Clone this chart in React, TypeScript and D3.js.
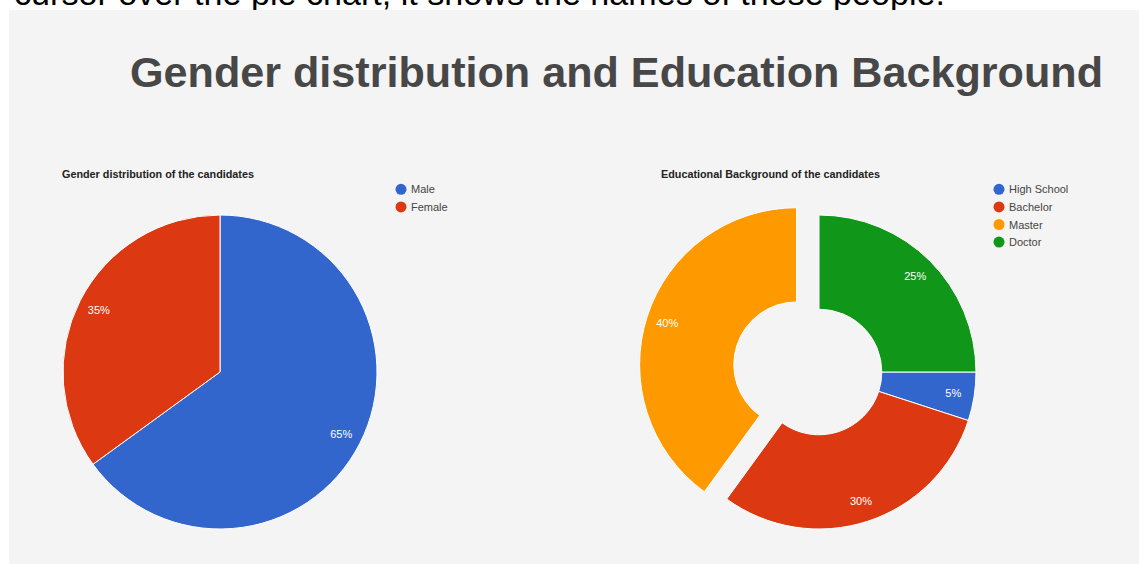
import React from "react";
import * as d3 from "d3";

const pageCaption = "cursor over the pie chart, it shows the names of these people.";
const mainTitle = "Gender distribution and Education Background";

const genderTitle = "Gender distribution of the candidates";
const genderLabels = ["Male", "Female"];
const genderValues = [65, 35];
const genderColors = ["#3366cc", "#dc3912"];

const eduTitle = "Educational Background of the candidates";
const eduLabels = ["High School", "Bachelor", "Master", "Doctor"];
const eduValues = [5, 30, 40, 25];
const eduColors = ["#3366cc", "#dc3912", "#ff9900", "#109618"];
const eduExploded = ["Master"];

const W = 1139;
const H = 564;
const R = 157;
const LABEL_R = 136;

type PieProps = {
  cx: number;
  cy: number;
  labels: string[];
  values: number[];
  colors: string[];
  startDeg: number;
  hole: number;
  exploded: string[];
};

function Pie({ cx, cy, labels, values, colors, startDeg, hole, exploded }: PieProps) {
  const start = (startDeg * Math.PI) / 180;
  const pie = d3
    .pie<number>()
    .sort(null)
    .startAngle(start)
    .endAngle(start + Math.PI * 2)
    .value((d) => d);
  const arcs = pie(values);
  const arc = d3.arc<d3.PieArcDatum<number>>().innerRadius(R * hole).outerRadius(R);
  const total = d3.sum(values);
  return (
    <g transform={`translate(${cx},${cy})`}>
      {arcs.map((a, i) => {
        const mid = (a.startAngle + a.endAngle) / 2;
        const off = exploded.includes(labels[i]) ? 0.15 * R : 0;
        const ox = Math.sin(mid) * off;
        const oy = -Math.cos(mid) * off;
        const lx = ox + Math.sin(mid) * LABEL_R;
        const ly = oy - Math.cos(mid) * LABEL_R;
        return (
          <g key={labels[i]}>
            <path
              d={arc(a) || ""}
              transform={`translate(${ox},${oy})`}
              fill={colors[i]}
              stroke="#ffffff"
              strokeWidth={1}
            />
            <text
              x={lx}
              y={ly}
              textAnchor="middle"
              dominantBaseline="central"
              fontFamily="'Liberation Sans', Arial, sans-serif"
              fontSize={11}
              fill="#ffffff"
            >
              {`${Math.round((values[i] / total) * 100)}%`}
            </text>
          </g>
        );
      })}
    </g>
  );
}

function Legend({ x, y, labels, colors }: { x: number; y: number; labels: string[]; colors: string[] }) {
  return (
    <g>
      {labels.map((l, i) => (
        <g key={l} transform={`translate(${x},${y + i * 17.6})`}>
          <circle cx={0} cy={0} r={5.5} fill={colors[i]} />
          <text
            x={10}
            y={0}
            dominantBaseline="central"
            fontFamily="'Liberation Sans', Arial, sans-serif"
            fontSize={11}
            fill="#444444"
          >
            {l}
          </text>
        </g>
      ))}
    </g>
  );
}

export default function App() {
  return (
    <div style={{ position: "absolute", left: 0, top: 0, width: W, height: H, background: "#ffffff" }}>
      <svg width={W} height={H} style={{ display: "block" }}>
        <rect x={0} y={0} width={W} height={H} fill="#ffffff" />
        <text
          x={14}
          y={5}
          fontFamily="'Liberation Sans', Arial, sans-serif"
          fontSize={34}
          fill="#000000"
          textLength={931}
          lengthAdjust="spacingAndGlyphs"
        >
          {pageCaption}
        </text>
        <rect x={9} y={10} width={W - 9} height={H - 10} fill="#f4f4f4" />
        <text
          x={130}
          y={87}
          fontFamily="'Liberation Sans', Arial, sans-serif"
          fontWeight="bold"
          fontSize={43}
          fill="#474747"
          textLength={973}
          lengthAdjust="spacingAndGlyphs"
        >
          {mainTitle}
        </text>

        <text
          x={62}
          y={177.5}
          fontFamily="'Liberation Sans', Arial, sans-serif"
          fontWeight="bold"
          fontSize={10.8}
          fill="#222222"
        >
          {genderTitle}
        </text>
        <Legend x={401} y={189.3} labels={genderLabels} colors={genderColors} />
        <Pie
          cx={220}
          cy={372}
          labels={genderLabels}
          values={genderValues}
          colors={genderColors}
          startDeg={0}
          hole={0}
          exploded={[]}
        />

        <text
          x={661}
          y={177.5}
          fontFamily="'Liberation Sans', Arial, sans-serif"
          fontWeight="bold"
          fontSize={10.8}
          fill="#222222"
        >
          {eduTitle}
        </text>
        <Legend x={999} y={189.3} labels={eduLabels} colors={eduColors} />
        <Pie
          cx={819}
          cy={372}
          labels={eduLabels}
          values={eduValues}
          colors={eduColors}
          startDeg={90}
          hole={0.4}
          exploded={eduExploded}
        />
      </svg>
    </div>
  );
}
